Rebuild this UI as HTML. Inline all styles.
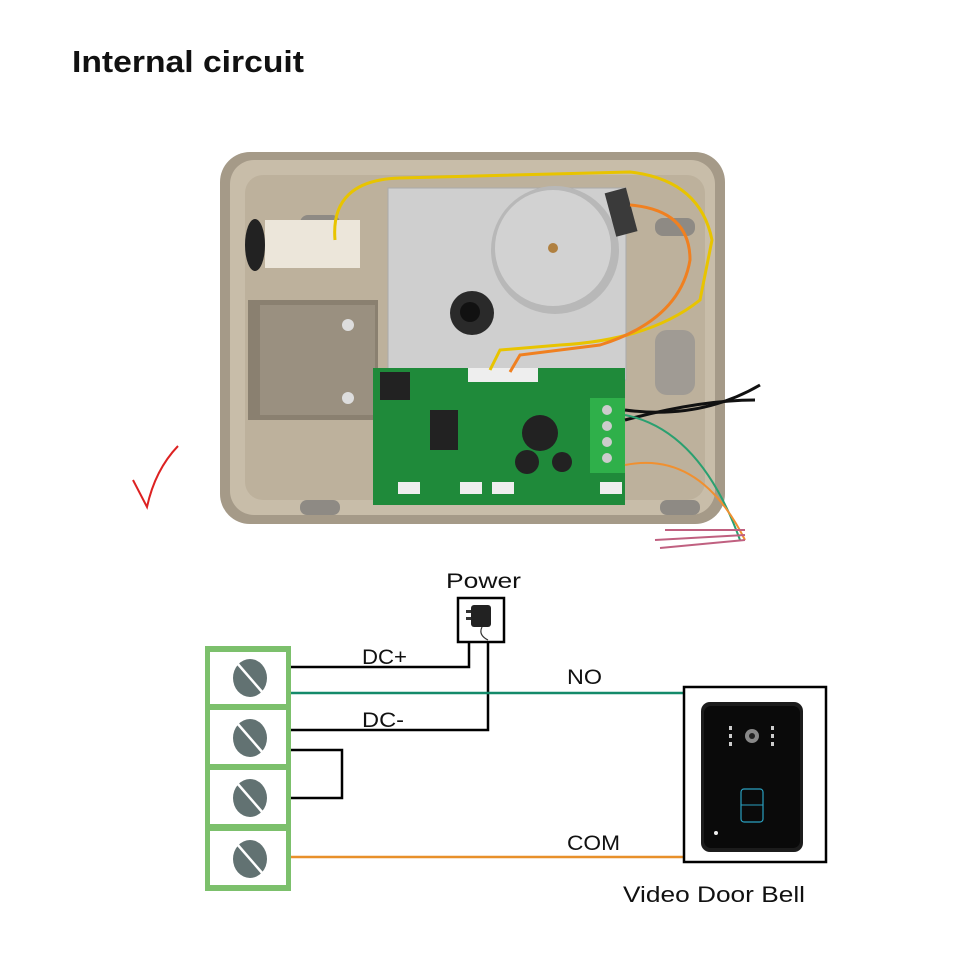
<!DOCTYPE html>
<html><head><meta charset="utf-8"><style>
body{margin:0;background:#fff;}
svg{display:block}
</style></head><body>
<svg width="960" height="960" viewBox="0 0 960 960" xmlns="http://www.w3.org/2000/svg" font-family="Liberation Sans, DejaVu Sans, sans-serif">
<rect width="960" height="960" fill="#fff"/>
<text x="72" y="72" font-size="31" font-weight="bold" fill="#111" textLength="232" lengthAdjust="spacingAndGlyphs">Internal circuit</text>

<!-- lock box photo approximation -->
<rect x="220" y="152" width="505" height="372" rx="30" fill="#a59a88"/>
<rect x="230" y="160" width="485" height="355" rx="24" fill="#c8bda9"/>
<rect x="245" y="175" width="460" height="325" rx="18" fill="#bdb19c"/>
<rect x="300" y="215" width="40" height="18" rx="8" fill="#8e8a84"/>
<rect x="655" y="218" width="40" height="18" rx="8" fill="#8e8a84"/>
<rect x="300" y="500" width="40" height="15" rx="7" fill="#8e8a84"/>
<rect x="660" y="500" width="40" height="15" rx="7" fill="#8e8a84"/>
<rect x="655" y="330" width="40" height="65" rx="12" fill="#a09b94"/>
<rect x="388" y="188" width="238" height="192" fill="#cfcfcf"/>
<rect x="388" y="188" width="238" height="192" fill="none" stroke="#aaa"/>
<circle cx="555" cy="250" r="64" fill="#b8b8b8"/>
<circle cx="553" cy="248" r="58" fill="#d2d2d2"/>
<circle cx="553" cy="248" r="5" fill="#b08040"/>
<rect x="610" y="190" width="22" height="45" fill="#3a3a3a" transform="rotate(-15 620 212)"/>
<circle cx="472" cy="313" r="22" fill="#2a2a2a"/>
<circle cx="470" cy="312" r="10" fill="#111"/>
<rect x="265" y="220" width="95" height="48" fill="#ece6da"/>
<ellipse cx="255" cy="245" rx="10" ry="26" fill="#222"/>
<rect x="248" y="300" width="130" height="120" fill="#8a8070"/>
<rect x="260" y="305" width="115" height="110" fill="#9a9080"/>
<circle cx="348" cy="325" r="6" fill="#ddd"/>
<circle cx="348" cy="398" r="6" fill="#ddd"/>
<rect x="373" y="368" width="252" height="137" fill="#1f8a3a"/>
<rect x="380" y="372" width="30" height="28" fill="#222"/>
<rect x="430" y="410" width="28" height="40" fill="#222"/>
<circle cx="540" cy="433" r="18" fill="#222"/>
<circle cx="527" cy="462" r="12" fill="#222"/>
<circle cx="562" cy="462" r="10" fill="#222"/>
<rect x="468" y="368" width="70" height="14" fill="#eee"/>
<rect x="590" y="398" width="35" height="75" fill="#2fb04a"/>
<circle cx="607" cy="410" r="5" fill="#ccc"/><circle cx="607" cy="426" r="5" fill="#ccc"/>
<circle cx="607" cy="442" r="5" fill="#ccc"/><circle cx="607" cy="458" r="5" fill="#ccc"/>
<rect x="398" y="482" width="22" height="12" fill="#eee"/><rect x="460" y="482" width="22" height="12" fill="#eee"/>
<rect x="492" y="482" width="22" height="12" fill="#eee"/><rect x="600" y="482" width="22" height="12" fill="#eee"/>
<path d="M335 240 Q330 180 400 178 L630 172 Q700 180 712 240 L700 300 Q650 340 560 345 L500 350 L490 370" fill="none" stroke="#e8c400" stroke-width="3"/>
<path d="M630 205 Q690 210 690 260 Q680 320 600 345 L520 355 L510 372" fill="none" stroke="#f08020" stroke-width="3"/>
<path d="M625 410 Q700 420 760 385" fill="none" stroke="#111" stroke-width="3"/>
<path d="M625 420 Q700 400 755 400" fill="none" stroke="#111" stroke-width="3"/>
<path d="M625 415 Q700 430 740 540" fill="none" stroke="#2aa070" stroke-width="2"/>
<path d="M625 465 Q700 450 745 540" fill="none" stroke="#f09030" stroke-width="2"/>
<path d="M655 540 L745 535 M660 548 L745 540 M665 530 L745 530" stroke="#c06080" stroke-width="2"/>
<path d="M133 480 L147 507 Q155 470 178 446" fill="none" stroke="#d22" stroke-width="2"/>

<text x="446" y="588" font-size="21" fill="#111" textLength="75" lengthAdjust="spacingAndGlyphs">Power</text>
<rect x="458" y="598" width="46" height="44" fill="#fff" stroke="#000" stroke-width="2.5"/>
<rect x="471" y="605" width="20" height="22" rx="3" fill="#222"/>
<rect x="466" y="610" width="5" height="3" fill="#333"/><rect x="466" y="617" width="5" height="3" fill="#333"/>
<path d="M482 627 Q478 635 488 640" fill="none" stroke="#333" stroke-width="1.2"/>

<rect x="205" y="646" width="86" height="245" fill="#7cc06c"/>
<rect x="210" y="652" width="76" height="52" fill="#fff"/>
<rect x="210" y="710" width="76" height="54" fill="#fff"/>
<rect x="210" y="770" width="76" height="54" fill="#fff"/>
<rect x="210" y="831" width="76" height="54" fill="#fff"/>
<g fill="#627272">
<ellipse cx="250" cy="678" rx="17" ry="19"/><ellipse cx="250" cy="738" rx="17" ry="19"/>
<ellipse cx="250" cy="798" rx="17" ry="19"/><ellipse cx="250" cy="859" rx="17" ry="19"/>
</g>
<g stroke="#fff" stroke-width="2.5">
<line x1="237" y1="663" x2="263" y2="693"/><line x1="237" y1="723" x2="263" y2="753"/>
<line x1="237" y1="783" x2="263" y2="813"/><line x1="237" y1="844" x2="263" y2="874"/>
</g>

<path d="M291 667 L469 667 L469 642" fill="none" stroke="#000" stroke-width="2.5"/>
<path d="M488 642 L488 730 L291 730" fill="none" stroke="#000" stroke-width="2.5"/>
<path d="M291 750 L342 750 L342 798 L291 798" fill="none" stroke="#000" stroke-width="2.5"/>
<line x1="291" y1="693" x2="684" y2="693" stroke="#148a6a" stroke-width="2.5"/>
<line x1="291" y1="857" x2="684" y2="857" stroke="#e8902a" stroke-width="2.5"/>
<text x="362" y="664" font-size="21" fill="#111" textLength="45" lengthAdjust="spacingAndGlyphs">DC+</text>
<text x="362" y="727" font-size="21" fill="#111" textLength="42" lengthAdjust="spacingAndGlyphs">DC-</text>
<text x="567" y="684" font-size="21" fill="#111" textLength="35" lengthAdjust="spacingAndGlyphs">NO</text>
<text x="567" y="850" font-size="21" fill="#111" textLength="53" lengthAdjust="spacingAndGlyphs">COM</text>

<rect x="684" y="687" width="142" height="175" fill="#fff" stroke="#000" stroke-width="2.5"/>
<rect x="701" y="702" width="102" height="150" rx="9" fill="#1c1c1c"/>
<rect x="704" y="706" width="96" height="142" rx="7" fill="#0a0a0a"/>
<circle cx="752" cy="736" r="7" fill="#888"/><circle cx="752" cy="736" r="3" fill="#222"/>
<g fill="#ccc"><rect x="729" y="726" width="3" height="4"/><rect x="729" y="734" width="3" height="4"/><rect x="729" y="742" width="3" height="4"/>
<rect x="771" y="726" width="3" height="4"/><rect x="771" y="734" width="3" height="4"/><rect x="771" y="742" width="3" height="4"/></g>
<rect x="741" y="789" width="22" height="33" rx="3" fill="none" stroke="#2aa0c0" stroke-width="1.2"/>
<line x1="741" y1="805" x2="763" y2="805" stroke="#2aa0c0"/>
<circle cx="716" cy="833" r="2" fill="#eee"/>
<text x="623" y="902" font-size="22" fill="#111" textLength="182" lengthAdjust="spacingAndGlyphs">Video Door Bell</text>
</svg>
</body></html>
